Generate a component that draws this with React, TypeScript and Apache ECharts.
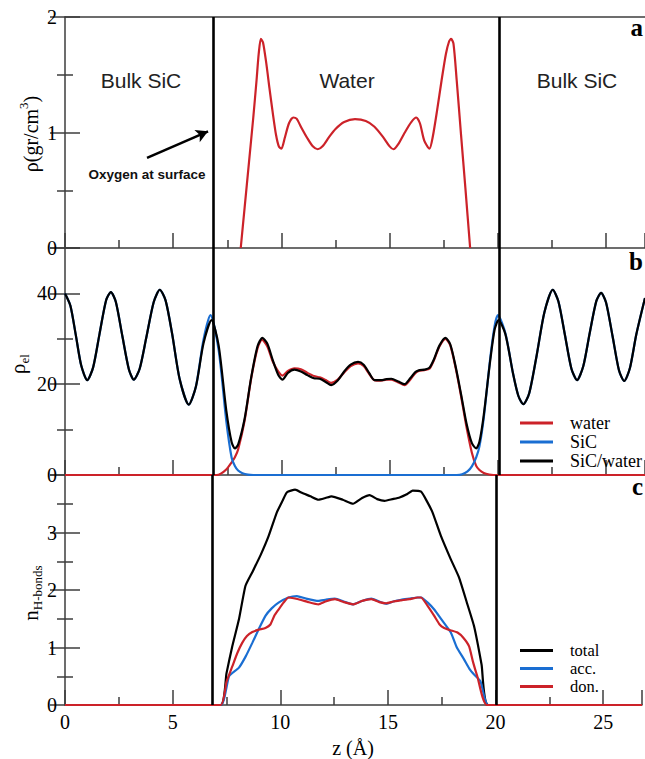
import React, { useEffect, useRef } from "react";
import * as echarts from "echarts";

// ---------- data ----------
const Z_MAX = 26.8;
const xTickLabels = [0, 5, 10, 15, 20, 25];
const yTicksA = [0, 1, 2];
const yTicksB = [0, 20, 40];
const yTicksC = [0, 1, 2, 3];
const interfaceZ = [6.85, 20.05];
const regionLabels = ["Bulk SiC", "Water", "Bulk SiC"];
const legendB = ["water", "SiC", "SiC/water"];
const legendC = ["total", "acc.", "don."];

// panel a: water mass density (gr/cm^3)
const waterMassDensity: [number, number][] = [
  [8.12, 0], [8.3, 0.35], [8.5, 0.74], [8.7, 1.13], [8.85, 1.45], [8.95, 1.68], [9.05, 1.81],
  [9.15, 1.78], [9.3, 1.6], [9.45, 1.38], [9.6, 1.17], [9.75, 0.98], [9.88, 0.88], [10.0, 0.86],
  [10.15, 0.95], [10.35, 1.08], [10.55, 1.13], [10.7, 1.12], [10.9, 1.05], [11.2, 0.95],
  [11.45, 0.88], [11.68, 0.855], [11.9, 0.88], [12.2, 0.96], [12.5, 1.03], [12.9, 1.09],
  [13.4, 1.115], [13.9, 1.1], [14.3, 1.05], [14.7, 0.96], [15.0, 0.88], [15.18, 0.855],
  [15.4, 0.9], [15.7, 1.0], [16.0, 1.09], [16.23, 1.13], [16.4, 1.08], [16.6, 0.93],
  [16.84, 0.86], [17.0, 0.97], [17.2, 1.2], [17.4, 1.45], [17.6, 1.68], [17.75, 1.79],
  [17.84, 1.81], [17.95, 1.77], [18.1, 1.45], [18.3, 0.98], [18.5, 0.52], [18.72, 0],
];
const arrowFrom: [number, number] = [3.79, 0.78];
const arrowTo: [number, number] = [6.61, 1.01];

// panel b: electron density
const elWater: [number, number][] = [
  [0, 0], [7.0, 0], [7.2, 0.3], [7.45, 1.2], [7.7, 2.8], [7.85, 3.9], [8.0, 5.6], [8.3, 12.0],
  [8.6, 21.2], [8.9, 28.0], [9.1, 29.8], [9.35, 28.3], [9.6, 25.0], [9.85, 22.8], [10.05, 21.9],
  [10.3, 22.9], [10.6, 23.5], [10.9, 23.3], [11.2, 22.5], [11.5, 21.8], [11.77, 21.5],
  [12.05, 20.9], [12.3, 20.3], [12.6, 21.0], [12.9, 22.6], [13.2, 24.0], [13.54, 24.6],
  [13.8, 24.0], [14.05, 22.3], [14.3, 20.9], [14.6, 20.8], [14.85, 21.0], [15.08, 21.0],
  [15.4, 20.4], [15.69, 19.8], [15.95, 21.0], [16.2, 22.5], [16.38, 23.0], [16.6, 23.1],
  [16.84, 23.4], [17.05, 25.3], [17.3, 28.3], [17.58, 30.0], [17.8, 28.6], [18.05, 23.6],
  [18.3, 17.4], [18.55, 10.6], [18.8, 4.9], [19.0, 2.0], [19.15, 1.1], [19.35, 0.45],
  [19.6, 0.1], [19.8, 0], [26.8, 0],
];
const elSiC: [number, number][] = [
  [0, 40], [0.25, 37.3], [0.5, 30.8], [0.75, 24.1], [1.03, 20.9], [1.3, 23.7], [1.6, 31.2],
  [1.9, 38.5], [2.12, 40.3], [2.35, 38.1], [2.65, 30.6], [2.95, 23.3], [3.18, 21.0], [3.45, 23.4],
  [3.75, 30.1], [4.1, 38.1], [4.38, 40.8], [4.65, 38.4], [4.95, 31.1], [5.3, 21.1], [5.72, 15.5],
  [6.05, 19.5], [6.4, 29.8], [6.72, 35.2], [7.1, 27.5], [7.45, 12.0], [7.7, 3.8], [7.85, 2.0],
  [8.0, 1.0], [8.2, 0.4], [8.45, 0.08], [8.7, 0], [18.1, 0], [18.35, 0.15], [18.6, 0.8],
  [18.8, 1.9], [19.0, 3.9], [19.15, 6.3], [19.35, 12.6], [19.65, 25.8], [19.85, 32.8],
  [20.0, 35.2], [20.35, 31.2], [20.7, 22.4], [20.95, 17.4], [21.18, 15.6], [21.45, 18.0],
  [21.8, 26.5], [22.15, 35.8], [22.54, 40.8], [22.8, 38.2], [23.1, 30.85], [23.4, 23.4],
  [23.66, 20.9], [23.95, 24.0], [24.25, 31.4], [24.55, 38.3], [24.77, 40.1], [25.0, 38.0],
  [25.3, 30.6], [25.6, 23.0], [25.84, 20.7], [26.1, 23.5], [26.4, 31.0], [26.8, 39.0],
];
const elTotal: [number, number][] = [
  [0, 40], [0.25, 37.3], [0.5, 30.8], [0.75, 24.1], [1.03, 20.9], [1.3, 23.7], [1.6, 31.2],
  [1.9, 38.5], [2.12, 40.3], [2.35, 38.1], [2.65, 30.6], [2.95, 23.3], [3.18, 21.0], [3.45, 23.4],
  [3.75, 30.1], [4.1, 38.1], [4.38, 40.8], [4.65, 38.4], [4.95, 31.1], [5.3, 21.1], [5.72, 15.5],
  [6.05, 19.5], [6.4, 29.0], [6.77, 34.1], [7.1, 28.5], [7.45, 14.3], [7.7, 7.2], [7.85, 5.85],
  [8.0, 6.7], [8.3, 12.4], [8.6, 21.4], [8.9, 28.4], [9.12, 30.2], [9.35, 28.9], [9.6, 25.3],
  [9.85, 22.1], [10.05, 21.0], [10.3, 22.5], [10.6, 23.2], [10.9, 22.8], [11.2, 22.0],
  [11.5, 21.3], [11.77, 21.2], [12.05, 20.5], [12.3, 19.8], [12.6, 20.8], [12.9, 22.8],
  [13.2, 24.3], [13.54, 24.9], [13.8, 24.3], [14.05, 22.5], [14.3, 20.9], [14.6, 20.9],
  [14.85, 21.1], [15.08, 21.2], [15.4, 20.6], [15.69, 20.0], [15.95, 21.3], [16.2, 22.7],
  [16.38, 23.1], [16.6, 23.2], [16.84, 23.6], [17.05, 25.5], [17.3, 28.5], [17.58, 30.2],
  [17.8, 28.8], [18.05, 23.9], [18.3, 17.8], [18.55, 11.4], [18.8, 7.0], [19.0, 5.85],
  [19.15, 7.3], [19.35, 13.2], [19.65, 25.3], [19.85, 32.0], [20.03, 34.1], [20.35, 31.0],
  [20.7, 22.4], [20.95, 17.4], [21.18, 15.6], [21.45, 18.0], [21.8, 26.5], [22.15, 35.8],
  [22.54, 40.8], [22.8, 38.2], [23.1, 30.85], [23.4, 23.4], [23.66, 20.9], [23.95, 24.0],
  [24.25, 31.4], [24.55, 38.3], [24.77, 40.1], [25.0, 38.0], [25.3, 30.6], [25.6, 23.0],
  [25.84, 20.7], [26.1, 23.5], [26.4, 31.0], [26.8, 39.0],
];

// panel c: number of H-bonds
const hbTotal: [number, number][] = [
  [0, 0], [7.23, 0], [7.5, 0.55], [7.77, 1.02], [8.08, 1.49], [8.38, 2.07], [8.7, 2.31],
  [9.1, 2.62], [9.46, 2.94], [9.84, 3.35], [10.1, 3.55], [10.31, 3.7], [10.69, 3.745],
  [11.0, 3.69], [11.4, 3.63], [11.77, 3.57], [12.1, 3.6], [12.38, 3.63], [12.9, 3.57],
  [13.38, 3.5], [13.8, 3.6], [14.15, 3.65], [14.5, 3.58], [14.85, 3.55], [15.2, 3.58],
  [15.54, 3.61], [15.85, 3.66], [16.15, 3.73], [16.54, 3.71], [16.8, 3.55], [17.07, 3.35],
  [17.46, 2.94], [17.9, 2.55], [18.3, 2.22], [18.65, 1.8], [19.0, 1.37], [19.35, 0.7],
  [19.66, 0], [26.8, 0],
];
const hbAcc: [number, number][] = [
  [0, 0], [7.23, 0], [7.62, 0.5], [8.08, 0.65], [8.4, 0.85], [8.7, 1.08], [9.0, 1.32],
  [9.31, 1.55], [9.6, 1.68], [9.92, 1.78], [10.38, 1.87], [10.77, 1.895], [11.2, 1.85],
  [11.77, 1.81], [12.1, 1.83], [12.54, 1.85], [12.95, 1.8], [13.38, 1.75], [13.8, 1.81],
  [14.23, 1.85], [14.6, 1.8], [14.92, 1.76], [15.25, 1.8], [15.61, 1.83], [16.0, 1.85],
  [16.38, 1.87], [16.54, 1.87], [16.85, 1.78], [17.15, 1.66], [17.5, 1.48], [17.92, 1.26],
  [18.2, 1.0], [18.54, 0.79], [18.8, 0.62], [19.0, 0.53], [19.3, 0.41], [19.66, 0], [26.8, 0],
];
const hbDon: [number, number][] = [
  [0, 0], [7.23, 0], [7.5, 0.4], [7.77, 0.67], [8.0, 0.9], [8.23, 1.08], [8.45, 1.2],
  [8.7, 1.27], [9.0, 1.31], [9.31, 1.34], [9.54, 1.4], [9.72, 1.55], [9.92, 1.66],
  [10.15, 1.78], [10.38, 1.87], [10.84, 1.84], [11.3, 1.79], [11.77, 1.75], [12.1, 1.8],
  [12.54, 1.84], [12.95, 1.79], [13.38, 1.75], [13.8, 1.81], [14.23, 1.84], [14.6, 1.79],
  [14.92, 1.77], [15.25, 1.8], [15.61, 1.82], [16.0, 1.84], [16.38, 1.87], [16.54, 1.87],
  [16.85, 1.72], [17.15, 1.55], [17.4, 1.4], [17.61, 1.34], [17.9, 1.3], [18.23, 1.26],
  [18.5, 1.17], [18.77, 1.02], [18.95, 0.75], [19.15, 0.5], [19.6, 0], [26.8, 0],
];

// ---------- styles ----------
const SERIF = "'Liberation Serif', 'DejaVu Serif', serif";
const SANS = "'Liberation Sans', Arial, sans-serif";
const RED = "#cc2229";
const BLUE = "#1a6ed2";
const BLACK = "#000000";
const AXIS = "#3c3c3c";

const axisLine = { show: true, onZero: false, lineStyle: { color: AXIS, width: 1.5 } };
const tickStyle = { color: AXIS, width: 1.5 };

function xAxis(grid: number, showLabel: boolean) {
  return {
    type: "value",
    gridIndex: grid,
    min: 0,
    max: Z_MAX,
    interval: 5,
    axisLine,
    axisTick: { show: true, inside: true, length: 15, lineStyle: tickStyle },
    minorTick: { show: true, splitNumber: 2, length: 8, lineStyle: tickStyle },
    splitLine: { show: false },
    minorSplitLine: { show: false },
    axisLabel: {
      show: showLabel,
      color: "#000",
      fontFamily: SERIF,
      fontSize: 20,
      margin: 7,
      formatter: (v: number) => (xTickLabels.includes(v) ? String(v) : ""),
    },
  };
}

function yAxis(grid: number, max: number, interval: number, labels: number[], right: boolean) {
  return {
    type: "value",
    gridIndex: grid,
    min: 0,
    max,
    interval,
    position: right ? "right" : "left",
    offset: right ? 3 : 0,
    axisLine: right ? { show: false } : axisLine,
    axisTick: { show: true, inside: true, length: 15, lineStyle: tickStyle },
    minorTick: { show: true, splitNumber: 2, length: 8, lineStyle: tickStyle },
    splitLine: { show: false },
    minorSplitLine: { show: false },
    axisLabel: {
      show: !right,
      color: "#000",
      fontFamily: SERIF,
      fontSize: 20,
      margin: 8,
      formatter: (v: number) => (labels.includes(v) ? String(v) : ""),
    },
  };
}

function vLines() {
  return interfaceZ.map((z) => ({ xAxis: z }));
}

const markLineBase = {
  silent: true,
  symbol: "none",
  animation: false,
  label: { show: false },
  emphasis: { disabled: true },
  lineStyle: { color: BLACK, width: 2.6, type: "solid" },
};

function line(name: string, data: [number, number][], color: string, grid: number, smooth: number, extra: any = {}) {
  return {
    type: "line",
    name,
    xAxisIndex: grid,
    yAxisIndex: grid,
    data,
    symbol: "none",
    smooth,
    color,
    itemStyle: { color },
    lineStyle: { color, width: 2.2 },
    emphasis: { disabled: true },
    ...extra,
  };
}

const option: any = {
  animation: false,
  backgroundColor: "#ffffff",
  grid: [
    { left: 65, right: 0, top: 17, height: 231 },
    { left: 65, right: 0, top: 248, height: 227 },
    { left: 65, right: 0, top: 475, height: 230 },
  ],
  xAxis: [
    xAxis(0, false),
    xAxis(1, false),
    xAxis(2, true),
    {
      type: "value",
      gridIndex: 0,
      position: "top",
      min: 0,
      max: Z_MAX,
      axisLine,
      axisTick: { show: false },
      axisLabel: { show: false },
      splitLine: { show: false },
    },
  ],
  yAxis: [
    yAxis(0, 2, 1, yTicksA, false),
    yAxis(1, 50, 20, yTicksB, false),
    yAxis(2, 4, 1, yTicksC, false),
    yAxis(0, 2, 1, yTicksA, true),
    yAxis(1, 50, 20, yTicksB, true),
    yAxis(2, 4, 1, yTicksC, true),
  ],
  legend: [
    {
      data: legendB,
      orient: "vertical",
      left: 515,
      top: 409,
      icon: "rect",
      itemWidth: 33,
      itemHeight: 3,
      itemGap: 1,
      selectedMode: false,
      textStyle: { fontFamily: SERIF, fontSize: 18, color: "#000", padding: [0, 0, 0, 12] },
    },
    {
      data: legendC,
      orient: "vertical",
      left: 515,
      top: 637,
      icon: "rect",
      itemWidth: 33,
      itemHeight: 3,
      itemGap: 1,
      selectedMode: false,
      textStyle: { fontFamily: SERIF, fontSize: 16.5, color: "#000", padding: [0, 0, 0, 12] },
    },
  ],
  series: [
    line("density", waterMassDensity, RED, 0, 0.25, {
      markLine: {
        ...markLineBase,
        data: [
          ...vLines(),
          [
            { coord: arrowFrom, symbol: "none" },
            { coord: arrowTo, symbol: "arrow", symbolSize: [10, 12] },
          ],
        ],
      },
    }),
    line("water", elWater, RED, 1, 0.25),
    line("SiC", elSiC, BLUE, 1, 0.25),
    line("SiC/water", elTotal, BLACK, 1, 0.25, {
      markLine: { ...markLineBase, data: vLines() },
    }),
    line("total", hbTotal, BLACK, 2, 0.15, {
      markLine: { ...markLineBase, data: vLines() },
    }),
    line("acc.", hbAcc, BLUE, 2, 0.15),
    line("don.", hbDon, RED, 2, 0.15),
  ],
  graphic: [
    { type: "text", x: 141, y: 80, style: { text: regionLabels[0], fontFamily: SANS, fontSize: 21, fill: "#222", align: "center", verticalAlign: "middle" } },
    { type: "text", x: 347, y: 80, style: { text: regionLabels[1], fontFamily: SANS, fontSize: 21, fill: "#222", align: "center", verticalAlign: "middle" } },
    { type: "text", x: 577, y: 80, style: { text: regionLabels[2], fontFamily: SANS, fontSize: 21, fill: "#222", align: "center", verticalAlign: "middle" } },
    { type: "text", x: 147, y: 174, style: { text: "Oxygen at surface", fontFamily: SANS, fontWeight: "bold", fontSize: 13.5, fill: "#111", align: "center", verticalAlign: "middle" } },
    { type: "text", x: 643, y: 40, style: { text: "a", fontFamily: SERIF, fontWeight: "bold", fontSize: 25, fill: "#000", align: "right", verticalAlign: "bottom" } },
    { type: "text", x: 643, y: 274, style: { text: "b", fontFamily: SERIF, fontWeight: "bold", fontSize: 25, fill: "#000", align: "right", verticalAlign: "bottom" } },
    { type: "text", x: 643, y: 499, style: { text: "c", fontFamily: SERIF, fontWeight: "bold", fontSize: 25, fill: "#000", align: "right", verticalAlign: "bottom" } },
    {
      type: "text", x: 31, y: 134, rotation: Math.PI / 2,
      style: {
        text: "{m|ρ(gr/cm}{s|3}{m|)}",
        align: "center", verticalAlign: "middle",
        rich: {
          m: { fontFamily: SERIF, fontSize: 20, lineHeight: 28, fill: "#000", verticalAlign: "middle" },
          s: { fontFamily: SERIF, fontSize: 13, lineHeight: 13, fill: "#000", verticalAlign: "top" },
        },
      },
    },
    {
      type: "text", x: 18, y: 364, rotation: Math.PI / 2,
      style: {
        text: "{m|ρ}{s|el}",
        align: "center", verticalAlign: "middle",
        rich: {
          m: { fontFamily: SERIF, fontSize: 21, lineHeight: 26, fill: "#000", verticalAlign: "middle" },
          s: { fontFamily: SERIF, fontSize: 13, lineHeight: 13, fill: "#000", verticalAlign: "bottom" },
        },
      },
    },
    {
      type: "text", x: 31, y: 593, rotation: Math.PI / 2,
      style: {
        text: "{m|n}{s|H-bonds}",
        align: "center", verticalAlign: "middle",
        rich: {
          m: { fontFamily: SERIF, fontSize: 21, lineHeight: 26, fill: "#000", verticalAlign: "middle" },
          s: { fontFamily: SERIF, fontSize: 13, lineHeight: 13, fill: "#000", verticalAlign: "bottom" },
        },
      },
    },
    { type: "text", x: 353, y: 748, style: { text: "z (Å)", fontFamily: SERIF, fontSize: 20, fill: "#000", align: "center", verticalAlign: "middle" } },
  ],
};

export default function App() {
  const ref = useRef<HTMLDivElement>(null);
  useEffect(() => {
    if (!ref.current) return;
    const chart = echarts.init(ref.current, undefined, { renderer: "svg" });
    chart.setOption(option);
    return () => chart.dispose();
  }, []);
  return (
    <div
      ref={ref}
      style={{ position: "fixed", left: 0, top: 0, width: 645, height: 759, background: "#fff" }}
    />
  );
}
